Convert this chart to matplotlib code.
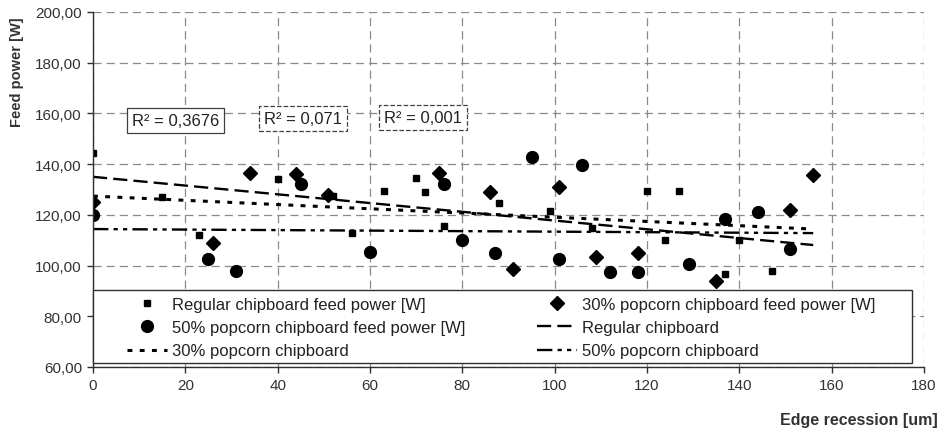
import matplotlib
matplotlib.use('Agg')  # no display
import matplotlib.pyplot as plt
from matplotlib.ticker import FuncFormatter, MultipleLocator
from matplotlib.patches import Rectangle

plt.rcParams['font.family'] = ['Liberation Sans', 'DejaVu Sans']

reg_x = [0, 15, 23, 40, 52, 56, 63, 70, 72, 76, 88, 99, 108, 120, 124, 127, 137, 140, 147]
reg_y = [144.5, 127, 112, 134, 127.5, 113, 129.5, 134.5, 129, 115.5, 124.5, 121.5, 115,
         129.5, 110, 129.5, 96.5, 110, 98]

p30_x = [0, 26, 34, 44, 51, 75, 86, 91, 101, 109, 118, 135, 151, 156]
p30_y = [125, 109, 136.5, 136, 128, 136.5, 129, 98.5, 131, 103.5, 105, 94, 122, 135.8]

p50_x = [0, 25, 31, 45, 60, 76, 80, 87, 95, 101, 106, 112, 118, 129, 137, 144, 151]
p50_y = [120, 102.5, 98, 132, 105.5, 132, 110, 105, 143, 102.5, 139.5, 97.5, 97.5,
         100.5, 118.5, 121, 106.5]

# linear trend lines (end points)
trend_x = [0, 156]
reg_trend = [135.0, 108.1]
p30_trend = [127.4, 114.4]
p50_trend = [114.4, 112.8]

r2_labels = ['R\u00b2 = 0,3676', 'R\u00b2 = 0,071', 'R\u00b2 = 0,001']
r2_pos = [(17.9, 157.2), (45.5, 158.0), (71.5, 158.4)]

fig = plt.figure(figsize=(9.42, 4.31), dpi=100)
ax = fig.add_axes([93 / 942, 1 - 368 / 431, 831 / 942, 355 / 431])

ax.set_xlim(0, 180)
ax.set_ylim(60, 200)
ax.xaxis.set_major_locator(MultipleLocator(20))
ax.yaxis.set_major_locator(MultipleLocator(20))
ax.yaxis.set_major_formatter(FuncFormatter(lambda v, p: f'{v:.2f}'.replace('.', ',')))

ax.grid(True, color='#8a8a8a', linestyle=(0, (6.5, 4)), linewidth=0.9)
ax.set_axisbelow(True)
for s in ['top', 'right']:
    ax.spines[s].set_visible(False)
for s in ['left', 'bottom']:
    ax.spines[s].set_color('#303030')
    ax.spines[s].set_linewidth(1.0)
ax.tick_params(direction='out', length=4, width=1, color='#303030',
               labelsize=11, labelcolor='#333333', pad=4)

lw = 1.7
h_reg, = ax.plot(reg_x, reg_y, 's', color='black', ms=5, linestyle='none',
                 label='Regular chipboard feed power [W]')
h_30, = ax.plot(p30_x, p30_y, 'D', color='black', ms=7, linestyle='none',
                label='30% popcorn chipboard feed power [W]')
h_50, = ax.plot(p50_x, p50_y, 'o', color='black', ms=8.5, linestyle='none',
                label='50% popcorn chipboard feed power [W]')
t_reg, = ax.plot(trend_x, reg_trend, color='black', lw=lw, dashes=(6, 2.6),
                 label='Regular chipboard')
t_30, = ax.plot(trend_x, p30_trend, color='black', lw=2.2, dashes=(1.6, 2.4),
                label='30% popcorn chipboard')
t_50, = ax.plot(trend_x, p50_trend, color='black', lw=lw,
                dashes=(6.5, 2.2, 1.8, 2.2, 1.8, 2.2), label='50% popcorn chipboard')

for txt, (x, y), ls in zip(r2_labels, r2_pos, ['-', '--', '--']):
    ax.text(x, y, txt, ha='center', va='center', fontsize=12, color='#222222',
            bbox=dict(boxstyle='square,pad=0.3', fc='white', ec='#404040',
                      lw=0.9, ls=ls), zorder=4)

# legend frame drawn by hand so the entries can sit where they do in the original
ax.add_patch(Rectangle((0, 0.011), 0.9856, 0.206, transform=ax.transAxes,
                       fc='white', ec='#303030', lw=1.0, zorder=5, clip_on=False))
handles = [h_reg, h_50, t_30, h_30, t_reg, t_50]
leg = ax.legend(handles=handles, labels=[h.get_label() for h in handles], ncol=2,
                loc='upper left', bbox_to_anchor=(0.0409, 0.198), frameon=False,
                fontsize=12, numpoints=1, borderpad=0, handlelength=2.4,
                handletextpad=0.3, columnspacing=4.32, labelspacing=0.5,
                borderaxespad=0)
leg.set_zorder(6)
for t in leg.get_texts():
    t.set_color('#222222')

fig.text(17 / 942, 1 - 72 / 431, 'Feed power [W]', rotation=90, ha='center',
         va='center', fontsize=10.5, fontweight='bold', color='#333333')
fig.text(938 / 942, 1 - 421 / 431, 'Edge recession [um]', ha='right', va='center',
         fontsize=11.5, fontweight='bold', color='#333333')

fig.savefig('out.png', dpi=100)
